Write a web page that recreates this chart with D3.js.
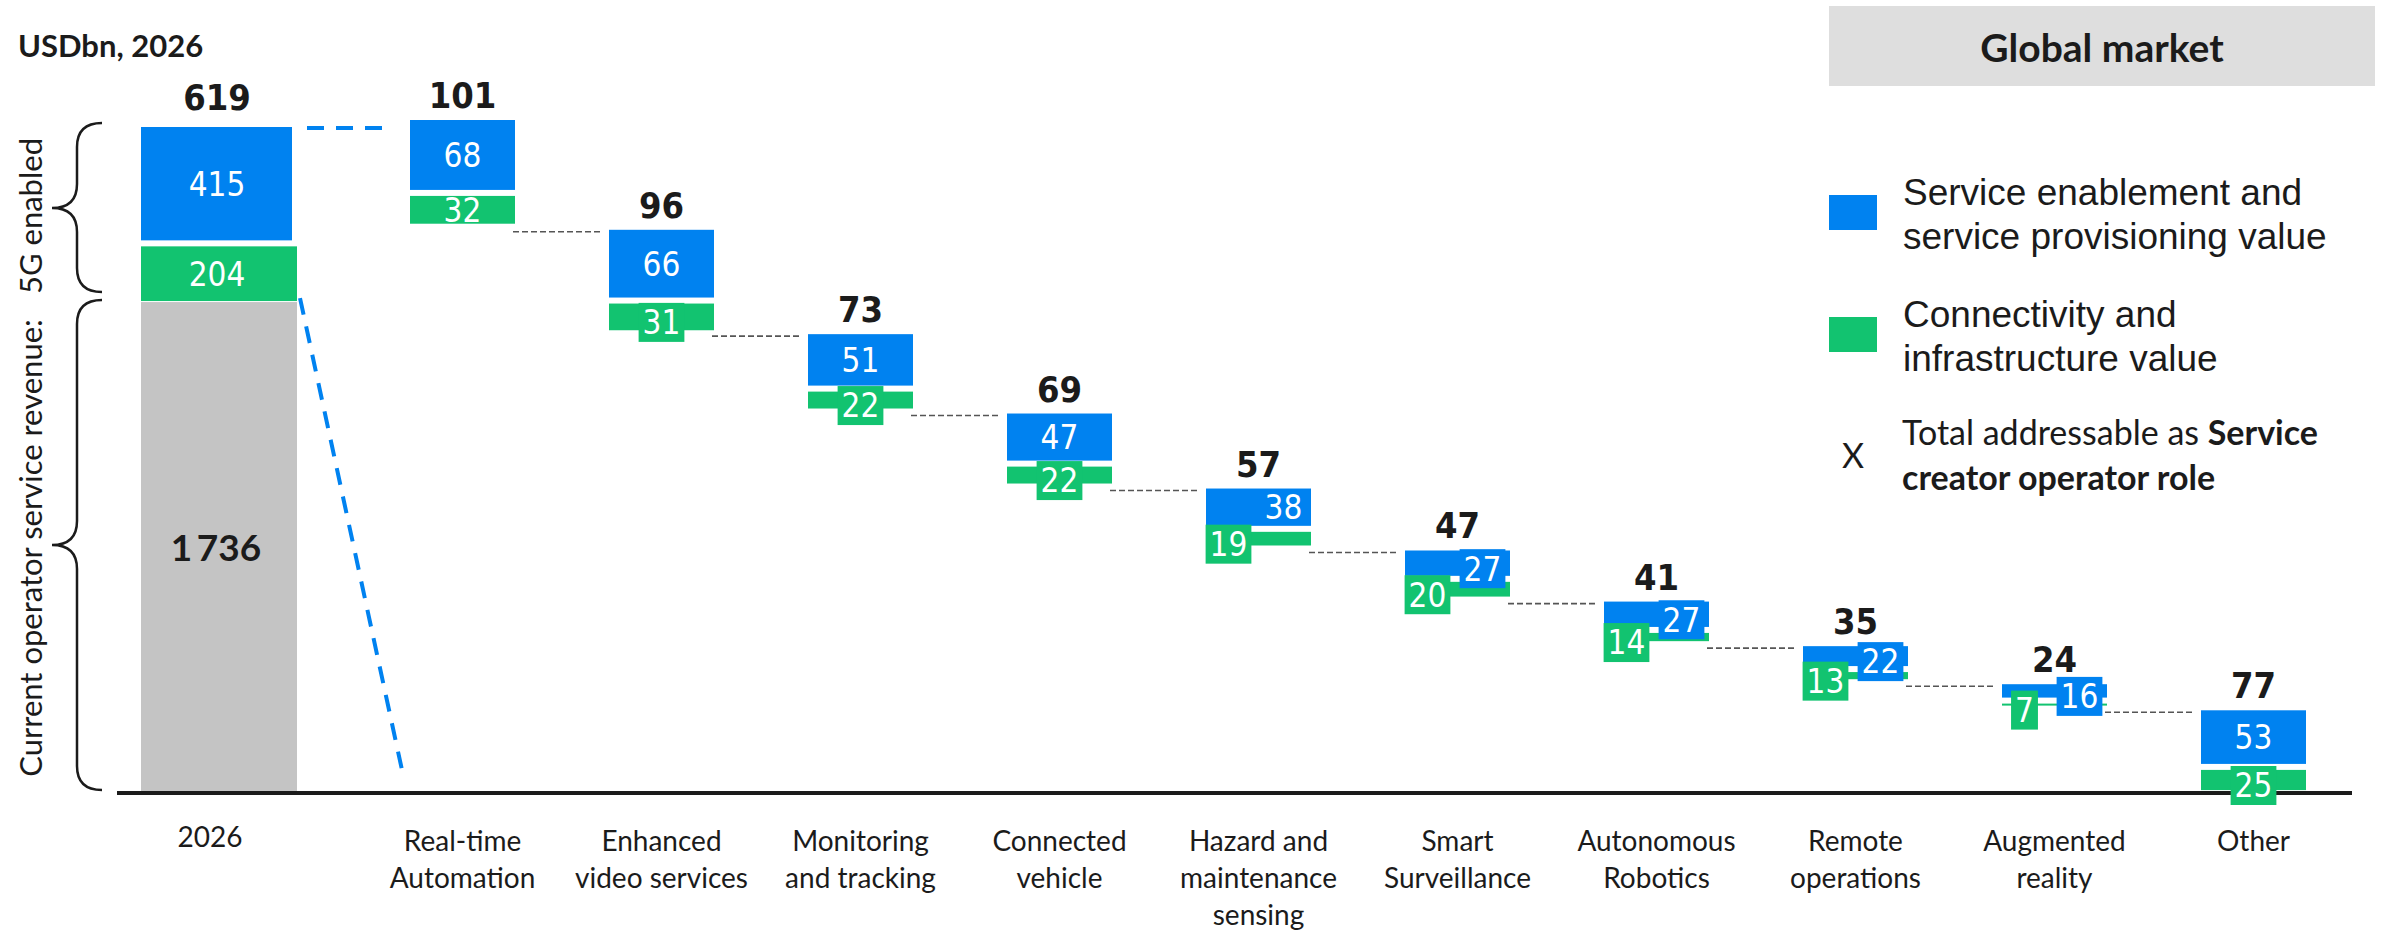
<!DOCTYPE html>
<html>
<head>
<meta charset="utf-8">
<script src="https://cdn.jsdelivr.net/npm/d3@7"></script>
<style>
  html, body { margin: 0; padding: 0; background: #fff; }
  svg { display: block; }
</style>
</head>
<body>
<svg id="chart" width="2395" height="932"></svg>
<script>
// ---- Data (USD bn, 2026) ----
const baseYear = "2026";
const currentRevenue = 1736;      // current operator service revenue
const enabledService = 415;       // 5G enabled: service enablement & provisioning
const enabledConnect = 204;       // 5G enabled: connectivity & infrastructure
const enabledTotal = 619;

const caseNames = [
  ["Real-time", "Automation"],
  ["Enhanced", "video services"],
  ["Monitoring", "and tracking"],
  ["Connected", "vehicle"],
  ["Hazard and", "maintenance", "sensing"],
  ["Smart", "Surveillance"],
  ["Autonomous", "Robotics"],
  ["Remote", "operations"],
  ["Augmented", "reality"],
  ["Other"]
];
const caseTotals    = [101, 96, 73, 69, 57, 47, 41, 35, 24, 77];
const serviceValues = [68, 66, 51, 47, 38, 27, 27, 22, 16, 53];
const connectValues = [32, 31, 22, 22, 19, 20, 14, 13, 7, 25];

const legendItems = [
  ["Service enablement and", "service provisioning value"],
  ["Connectivity and", "infrastructure value"]
];

// ---- Styles ----
const BLUE = "#0082f0", GREEN = "#12c370", GREY = "#c4c4c4", INK = "#1b1b1b";
const numFont = "'DejaVu Sans Condensed', 'DejaVu Sans', sans-serif";
const textFont = "Lato, 'Noto Sans', sans-serif";
const legendFont = "'Liberation Sans', Arial, sans-serif";

const svg = d3.select("#chart");
const n = caseTotals.length;
const baselineY = 793;

// 2026 stacked column scale
const yBase = d3.scaleLinear()
  .domain([0, currentRevenue + enabledService + enabledConnect])
  .range([baselineY, 127]);

// waterfall scale: cumulative value measured down from the top
const cum = [0];
caseTotals.forEach((v, i) => cum.push(cum[i] + v));
const yW = d3.scaleLinear().domain([0, cum[n]]).range([120, 794]);

// category positions
const xCase = d3.scalePoint().domain(d3.range(n)).range([462.5, 2253.5]);
const barW = 105;
const baseX0 = 141, baseX1 = 297, baseCx = (baseX0 + baseX1) / 2;

// ---- 2026 column ----
const g0 = svg.append("g");
g0.append("rect").attr("x", baseX0).attr("width", baseX1 - baseX0)
  .attr("y", yBase(currentRevenue)).attr("height", yBase(0) - yBase(currentRevenue))
  .attr("fill", GREY);
g0.append("rect").attr("x", baseX0).attr("width", baseX1 - baseX0)
  .attr("y", yBase(currentRevenue + enabledConnect) + 2)
  .attr("height", yBase(currentRevenue) - yBase(currentRevenue + enabledConnect) - 3)
  .attr("fill", GREEN);
const blueTop = yBase(currentRevenue + enabledConnect + enabledService);
const blueBot = yBase(currentRevenue + enabledConnect) - 4;
g0.append("rect").attr("x", baseX0).attr("width", baseX1 - baseX0 - 5)
  .attr("y", blueTop).attr("height", blueBot - blueTop)
  .attr("fill", BLUE);

const innerFs = 33;
function numText(g, x, cy, txt, fill, fs, weight) {
  return g.append("text")
    .attr("x", x).attr("y", cy + 0.36 * fs)
    .attr("text-anchor", "middle")
    .attr("font-family", numFont).attr("font-stretch", "condensed")
    .attr("font-size", fs).attr("font-weight", weight || "normal")
    .attr("fill", fill).text(txt);
}
numText(g0, baseCx - 2, (blueTop + blueBot) / 2, enabledService, "#fff", innerFs);
numText(g0, baseCx - 2,
  (yBase(currentRevenue + enabledConnect) + 2 + yBase(currentRevenue) - 1) / 2,
  enabledConnect, "#fff", innerFs);
g0.append("text")
  .attr("x", baseCx - 3).attr("y", (yBase(0) + yBase(currentRevenue)) / 2 + 0.36 * 37)
  .attr("text-anchor", "middle").attr("font-family", textFont)
  .attr("font-size", 37).attr("font-weight", "bold").attr("fill", INK)
  .text(d3.format(",")(currentRevenue).replace(",", "\u2009"));
numText(g0, baseCx - 2, 110 - 0.36 * 36, enabledTotal, INK, 36, "bold");

// zoom guides from the 5G part of the column into the breakdown
const guide = svg.append("g").attr("stroke", BLUE).attr("stroke-width", 4)
  .attr("stroke-dasharray", "17 12").attr("fill", "none");
guide.append("line")
  .attr("x1", baseX1 + 10).attr("x2", xCase(0) - barW / 2 - 28)
  .attr("y1", blueTop + 1).attr("y2", blueTop + 1);
guide.append("line")
  .attr("x1", baseX1 + 3).attr("y1", yBase(currentRevenue) - 4)
  .attr("x2", baseX1 + 105).attr("y2", baselineY - 23);

// ---- Baseline ----
svg.append("line").attr("x1", 117).attr("x2", 2352)
  .attr("y1", baselineY).attr("y2", baselineY)
  .attr("stroke", INK).attr("stroke-width", 4);

// ---- Waterfall ----
const gBars = svg.append("g");
const gLabels = svg.append("g");
const cases = d3.range(n).map(i => {
  const s = cum[i], b = serviceValues[i], c = connectValues[i];
  const cx = xCase(i);
  const bY0 = yW(s), bY1 = yW(s + b) - 4;
  const gY0 = yW(s + b) + 2, gY1 = Math.max(yW(s + b + c) - 5, gY0 + 2);
  return { i, s, b, c, cx, x0: cx - barW / 2, x1: cx + barW / 2, bY0, bY1, gY0, gY1 };
});

// connectors
svg.append("g").attr("stroke", "#555").attr("stroke-width", 1.6)
  .attr("stroke-dasharray", "6 3")
  .selectAll("line").data(cases.slice(1)).join("line")
  .attr("x1", d => cases[d.i - 1].x1 - 2).attr("x2", d => d.x0 - 7)
  .attr("y1", d => yW(d.s) + 2).attr("y2", d => yW(d.s) + 2);

gBars.selectAll("rect.svc").data(cases).join("rect").attr("class", "svc")
  .attr("x", d => d.x0).attr("width", barW)
  .attr("y", d => d.bY0).attr("height", d => d.bY1 - d.bY0).attr("fill", BLUE);
gBars.selectAll("rect.con").data(cases).join("rect").attr("class", "con")
  .attr("x", d => d.x0).attr("width", barW)
  .attr("y", d => d.gY0).attr("height", d => d.gY1 - d.gY0).attr("fill", GREEN);

function boxedLabel(cx, cy, value, color) {
  const g = gLabels.append("g");
  const r = g.append("rect").attr("fill", color);
  const t = numText(g, cx, cy, value, "#fff", innerFs);
  const w = t.node().getComputedTextLength() + 8;
  r.attr("x", cx - w / 2).attr("y", cy - 19.5).attr("width", w).attr("height", 39);
}

cases.forEach(d => {
  const split = (d.bY1 - d.bY0) < 40;
  const bh = d.bY1 - d.bY0, gh = d.gY1 - d.gY0;
  const bcy = (d.bY0 + d.bY1) / 2 + (bh >= 27 ? 0 : 5.5);
  const gcy = (d.gY0 + d.gY1) / 2 + (gh >= 27 ? 0 : 5.5);
  const bcx = split ? d.x1 - 27.5 : d.cx;
  const gcx = split ? d.x0 + 22.5 : d.cx;
  if (gh >= 27) numText(gLabels, gcx, gcy, d.c, "#fff", innerFs);
  else boxedLabel(gcx, gcy, d.c, GREEN);
  if (bh >= 27) numText(gLabels, bcx, bcy, d.b, "#fff", innerFs);
  else boxedLabel(bcx, bcy, d.b, BLUE);
  numText(gLabels, d.cx, yW(d.s) - 12 - 0.36 * 36, caseTotals[d.i], INK, 36, "bold");
});

// ---- Category labels ----
const catG = svg.append("g").attr("font-family", textFont).attr("font-size", 28)
  .attr("fill", INK).attr("text-anchor", "middle");
catG.append("text").attr("x", 210).attr("y", 847).text(baseYear);
cases.forEach(d => {
  const t = catG.append("text").attr("x", d.cx).attr("y", 851);
  caseNames[d.i].forEach((line, k) => {
    t.append("tspan").attr("x", d.cx).attr("dy", k === 0 ? 0 : 37).text(line);
  });
});

// ---- Unit and braces ----
svg.append("text").attr("x", 18).attr("y", 57)
  .attr("font-family", textFont).attr("font-size", 31).attr("font-weight", "bold")
  .attr("fill", INK).text("USDbn, 2026");

function brace(y0, y1, ym) {
  const p = d3.path();
  const xe = 102, xs = 77, xt = 52, r = 24;
  p.moveTo(xe, y0);
  p.quadraticCurveTo(xs, y0, xs, y0 + r);
  p.lineTo(xs, ym - r);
  p.quadraticCurveTo(xs, ym, xt, ym);
  p.quadraticCurveTo(xs, ym, xs, ym + r);
  p.lineTo(xs, y1 - r);
  p.quadraticCurveTo(xs, y1, xe, y1);
  return p.toString();
}
const braceG = svg.append("g").attr("fill", "none").attr("stroke", INK).attr("stroke-width", 2.5);
braceG.append("path").attr("d", brace(blueTop - 4, yBase(currentRevenue) - 10, 208));
braceG.append("path").attr("d", brace(yBase(currentRevenue) - 2, baselineY - 3, 545));

const sideG = svg.append("g").attr("font-family", textFont).attr("font-size", 31)
  .attr("fill", INK).attr("text-anchor", "middle");
sideG.append("text").attr("transform", "translate(42,216) rotate(-90)").text("5G enabled");
sideG.append("text").attr("transform", "translate(42,548) rotate(-90)")
  .text("Current operator service revenue:");

// ---- Legend ----
svg.append("rect").attr("x", 1829).attr("y", 6).attr("width", 546).attr("height", 80)
  .attr("fill", "#dedede");
svg.append("text").attr("x", 2102).attr("y", 62).attr("text-anchor", "middle")
  .attr("font-family", textFont).attr("font-size", 39).attr("font-weight", "bold")
  .attr("fill", INK).text("Global market");

const legY = [195, 317];
const legColors = [BLUE, GREEN];
legendItems.forEach((lines, k) => {
  svg.append("rect").attr("x", 1829).attr("y", legY[k]).attr("width", 48).attr("height", 35)
    .attr("fill", legColors[k]);
  const t = svg.append("text").attr("font-family", legendFont).attr("font-size", 37)
    .attr("fill", INK).attr("x", 1903).attr("y", legY[k] + 10);
  lines.forEach((line, j) => t.append("tspan").attr("x", 1903).attr("dy", j ? 44 : 0).text(line));
});

svg.append("text").attr("x", 1853).attr("y", 468).attr("text-anchor", "middle")
  .attr("font-family", textFont).attr("font-size", 34).attr("fill", INK).text("X");
const lt = svg.append("text").attr("font-family", textFont).attr("font-size", 34).attr("fill", INK);
const l1 = lt.append("tspan").attr("x", 1902).attr("y", 445);
l1.append("tspan").text("Total addressable as ");
l1.append("tspan").attr("font-weight", "bold").text("Service");
lt.append("tspan").attr("x", 1902).attr("y", 490).attr("font-weight", "bold").text("creator operator role");
</script>
</body>
</html>
